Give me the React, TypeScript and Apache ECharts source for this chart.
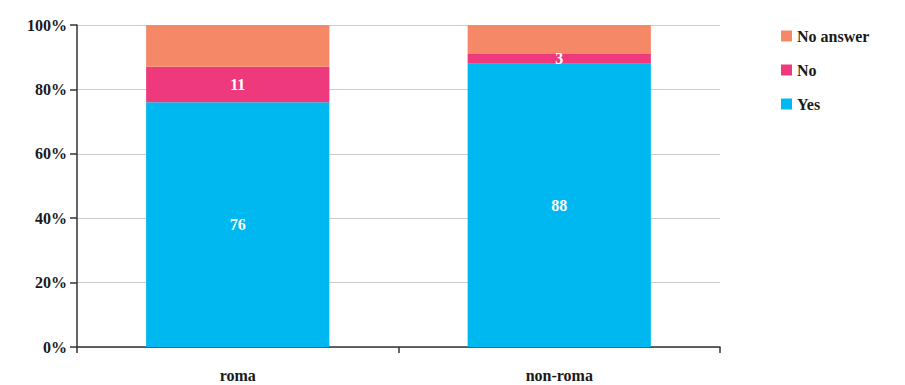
import React, { useEffect, useRef } from "react";
import * as echarts from "echarts";

const categories = ["roma", "non-roma"];
const yesValues = [76, 88];
const noValues = [11, 3];
const noAnswerValues = [13, 9];
const yTicks = [0, 20, 40, 60, 80, 100];

const FONT = "'Liberation Serif', 'DejaVu Serif', serif";

export default function App() {
  const ref = useRef<HTMLDivElement>(null);
  useEffect(() => {
    if (!ref.current) return;
    const chart = echarts.init(ref.current, undefined, { renderer: "svg" });
    const labelStyle = {
      show: true,
      position: "inside" as const,
      color: "#ffffff",
      fontFamily: FONT,
      fontWeight: "bold" as const,
      fontSize: 16,
    };
    chart.setOption({
      animation: false,
      backgroundColor: "#ffffff",
      grid: { left: 77, right: 185, top: 25, bottom: 38, containLabel: false, outerBoundsMode: "none" },
      legend: {
        orient: "vertical",
        left: 776,
        top: 23,
        itemWidth: 11,
        itemHeight: 11,
        itemGap: 18,
        icon: "rect",
        data: ["No answer", "No", "Yes"],
        textStyle: { fontFamily: FONT, fontWeight: "bold", fontSize: 16, color: "#1a1a1a" },
      },
      xAxis: {
        type: "category",
        data: categories,
        axisLine: { lineStyle: { color: "#333333", width: 1.5 } },
        axisTick: { show: true, length: 6, lineStyle: { color: "#333333", width: 1.5 } },
        axisLabel: { margin: 20, fontFamily: FONT, fontWeight: "bold", fontSize: 16, color: "#1a1a1a" },
      },
      yAxis: {
        type: "value",
        min: yTicks[0],
        max: yTicks[yTicks.length - 1],
        interval: 20,
        axisLine: { show: true, lineStyle: { color: "#333333", width: 1.5 } },
        axisTick: { show: true, length: 7, lineStyle: { color: "#333333", width: 1.5 } },
        axisLabel: {
          margin: 10,
          formatter: "{value}%",
          fontFamily: FONT,
          fontWeight: "bold",
          fontSize: 16,
          color: "#1a1a1a",
        },
        splitLine: { lineStyle: { color: "#cccccc", width: 1 } },
      },
      series: [
        {
          name: "Yes",
          type: "bar",
          stack: "total",
          barWidth: "57%",
          data: yesValues,
          itemStyle: { color: "#00B8F0" },
          label: labelStyle,
        },
        {
          name: "No",
          type: "bar",
          stack: "total",
          data: noValues,
          itemStyle: { color: "#EE3A7C" },
          label: labelStyle,
        },
        {
          name: "No answer",
          type: "bar",
          stack: "total",
          data: noAnswerValues,
          itemStyle: { color: "#F58866" },
          label: { show: false },
        },
      ],
    });
    return () => chart.dispose();
  }, []);
  return (
    <div
      ref={ref}
      style={{ position: "absolute", left: 0, top: 0, width: 905, height: 385 }}
    />
  );
}
